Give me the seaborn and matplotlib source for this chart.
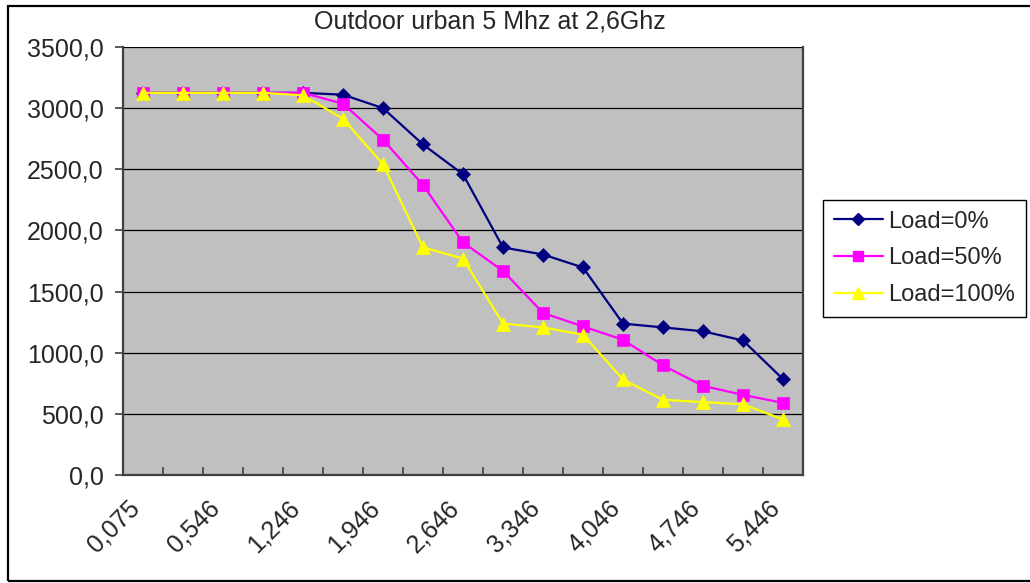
import numpy as np
import pandas as pd
import matplotlib
matplotlib.use("Agg")
import matplotlib.pyplot as plt
import matplotlib.transforms as mtransforms
from matplotlib.patches import Rectangle
from matplotlib.ticker import FixedLocator
from matplotlib.lines import Line2D
import seaborn as sns

# ---------------- data ----------------
categories = ["0,075", "0,2", "0,546", "0,896", "1,246", "1,596", "1,946", "2,296",
              "2,646", "2,996", "3,346", "3,696", "4,046", "4,396", "4,746", "5,096", "5,446"]
load_0 = [3125, 3125, 3125, 3125, 3125, 3110, 3000, 2703, 2459, 1861, 1803, 1697,
          1238, 1207, 1175, 1100, 784]
load_50 = [3125, 3125, 3125, 3125, 3125, 3036, 2743, 2371, 1902, 1669, 1325, 1215,
           1106, 896, 729, 655, 590]
load_100 = [3125, 3125, 3125, 3125, 3105, 2913, 2541, 1861, 1770, 1238, 1207, 1147,
            781, 615, 596, 578, 454]
series_names = ["Load=0%", "Load=50%", "Load=100%"]
y_ticks = [0, 500, 1000, 1500, 2000, 2500, 3000, 3500]
y_tick_labels = ["0,0", "500,0", "1000,0", "1500,0", "2000,0", "2500,0", "3000,0", "3500,0"]
x_label_every = 2
title = "Outdoor urban 5 Mhz at 2,6Ghz"

# ---------------- frame ----------------
rows = []
for name, vals in zip(series_names, [load_0, load_50, load_100]):
    for i, (c, v) in enumerate(zip(categories, vals)):
        rows.append({"pos": i, "cat": c, "value": v, "series": name})
df = pd.DataFrame(rows)

sns.set_theme(style="white")
plt.rcParams["font.family"] = ["Liberation Sans", "DejaVu Sans"]

W, H = 1030, 583
fig = plt.figure(figsize=(W / 100, H / 100), dpi=100)
ax = fig.add_axes([123 / W, 1 - 475 / H, (803 - 123) / W, (475 - 47) / H])
ax.set_facecolor("#C0C0C0")

palette = {"Load=0%": "#000080", "Load=50%": "#FF00FF", "Load=100%": "#FFFF00"}
markers = {"Load=0%": "D", "Load=50%": "s", "Load=100%": "^"}
sizes_mk = {"Load=0%": 7.5, "Load=50%": 8, "Load=100%": 9.5}

sns.lineplot(data=df, x="pos", y="value", hue="series", style="series",
             palette=palette, markers=markers, dashes=False, linewidth=1.6,
             hue_order=series_names, style_order=series_names, ax=ax,
             legend=False, zorder=3)

for line, name in zip(ax.lines, series_names):
    line.set_markeredgecolor(palette[name])
    line.set_markerfacecolor(palette[name])
    line.set_markersize(sizes_mk[name])
    line.set_markeredgewidth(0.5)
    line.set_clip_on(False)

TICK_FS = 18

# axes limits & ticks
ax.set_xlim(-0.5, len(categories) - 0.5)
ax.set_ylim(y_ticks[0], y_ticks[-1])
ax.set_yticks(y_ticks)
ax.set_yticklabels(y_tick_labels, fontsize=TICK_FS)
ax.yaxis.grid(True, color="black", linewidth=0.9, zorder=1)
ax.set_axisbelow(True)
ax.tick_params(axis="y", direction="out", length=6, width=1.2, color="#404040", pad=8,
               left=True)

label_pos = list(range(0, len(categories), x_label_every))
ax.set_xticks(label_pos)
ax.set_xticklabels([categories[i] for i in label_pos], fontsize=TICK_FS, rotation=45,
                   ha="right", va="center", rotation_mode="anchor")
ax.tick_params(axis="x", length=0, pad=21)
ax.xaxis.set_minor_locator(FixedLocator(np.arange(0.5, len(categories) - 0.5, 1)))
ax.tick_params(axis="x", which="minor", direction="in", length=6, width=1.2,
               color="#404040", bottom=True)
offset = mtransforms.ScaledTranslation(-7 / 100, 0, fig.dpi_scale_trans)
for lab in ax.get_xticklabels():
    lab.set_transform(lab.get_transform() + offset)

ax.set_xlabel("")
ax.set_ylabel("")

for side in ["left", "bottom", "right"]:
    ax.spines[side].set_visible(True)
    ax.spines[side].set_color("#404040")
    ax.spines[side].set_linewidth(1.6)
ax.spines["top"].set_visible(False)

# title
fig.text(490 / W, 1 - 22 / H, title, ha="center", va="center", fontsize=18)

# legend
handles = [Line2D([], [], color=palette[n], marker=markers[n], markersize=sizes_mk[n] - 1,
                  markeredgecolor=palette[n], linewidth=1.6) for n in series_names]
leg = fig.legend(handles, series_names, loc="upper left",
                 bbox_to_anchor=(823 / W, 1 - 200 / H), bbox_transform=fig.transFigure,
                 frameon=True, fancybox=False, edgecolor="black", framealpha=1,
                 fontsize=17, handlelength=2.1, handletextpad=0.22, labelspacing=0.62,
                 borderpad=0.45, borderaxespad=0)
leg.get_frame().set_linewidth(1.0)

# outer chart frame
fig.patches.append(Rectangle((8 / W, 1 - 581 / H), 1.2, (581 - 6) / H,
                             transform=fig.transFigure, fill=False,
                             edgecolor="black", linewidth=1.6))

fig.savefig("out.png", dpi=100, facecolor="white")
